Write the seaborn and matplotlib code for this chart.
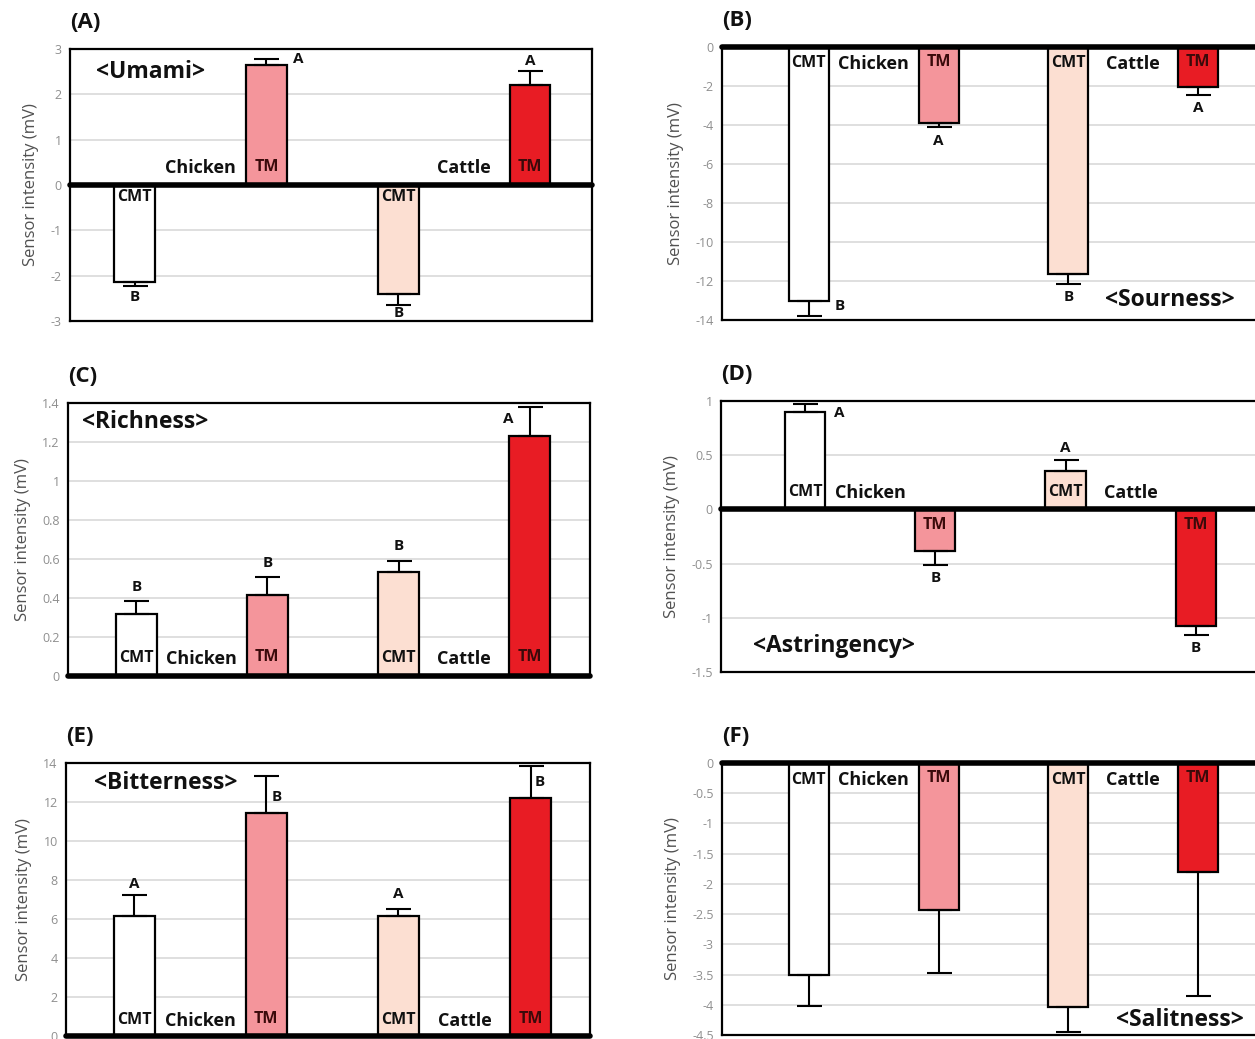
import matplotlib
matplotlib.use('Agg')
import matplotlib.pyplot as plt
import seaborn as sns
import pandas as pd
from matplotlib.ticker import FuncFormatter, MultipleLocator

# ---------------- data ----------------
bars = ["Chicken CMT", "Chicken TM", "Cattle CMT", "Cattle TM"]
bar_tags = ["CMT", "TM", "CMT", "TM"]
groups = ["Chicken", "Cattle"]
bar_colors = ["#FFFFFF", "#F4959B", "#FCDFD2", "#E81C24"]

umami = [-2.13, 2.65, -2.40, 2.20]
umami_err = [0.10, 0.13, 0.24, 0.31]
umami_sig = ["B", "A", "B", "A"]

sourness = [-13.0, -3.92, -11.63, -2.03]
sourness_err = [0.78, 0.20, 0.50, 0.41]
sourness_sig = ["B", "A", "B", "A"]

richness = [0.318, 0.415, 0.532, 1.229]
richness_err = [0.066, 0.095, 0.059, 0.152]
richness_sig = ["B", "B", "B", "A"]

astringency = [0.90, -0.383, 0.352, -1.077]
astringency_err = [0.075, 0.132, 0.108, 0.083]
astringency_sig = ["A", "B", "A", "B"]

bitterness = [6.13, 11.44, 6.13, 12.23]
bitterness_err = [1.09, 1.89, 0.40, 1.64]
bitterness_sig = ["A", "B", "A", "B"]

saltiness = [-3.51, -2.43, -4.03, -1.80]
saltiness_err = [0.51, 1.04, 0.42, 2.06]
saltiness_sig = ["", "", "", ""]

# ---------------- style ----------------
sns.set_style("white")
plt.rcParams['font.family'] = ['Open Sans', 'DejaVu Sans']
plt.rcParams['axes.unicode_minus'] = False

W, H = 1255, 1039
fig = plt.figure(figsize=(W / 100, H / 100), dpi=100)

panels = [
    dict(tag="(A)", name="<Umami>", vals=umami, err=umami_err, sig=umami_sig,
         px=(70, 49, 592, 321), xlim=(-0.49, 3.47), ylim=(-3, 3), step=1,
         name_pos=(-0.29, 2.49), cmt_y=-0.27, tm_y=0.40, grp_y=0.37,
         sig_pos=[(0, -2.47), (1.24, 2.78), (2, -2.83), (3, 2.74)]),
    dict(tag="(B)", name="<Sourness>", vals=sourness, err=sourness_err, sig=sourness_sig,
         px=(722, 47, 1259, 320), xlim=(-0.67, 3.47), ylim=(-14, 0), step=2,
         name_pos=(2.28, -12.97), cmt_y=-0.82, tm_y=-0.77, grp_y=-0.85,
         sig_pos=[(0.24, -13.3), (1, -4.82), (2, -12.8), (3, -3.13)]),
    dict(tag="(C)", name="<Richness>", vals=richness, err=richness_err, sig=richness_sig,
         px=(68, 403, 590, 676), xlim=(-0.52, 3.46), ylim=(0, 1.4), step=0.2,
         name_pos=(-0.41, 1.30), cmt_y=0.092, tm_y=0.095, grp_y=0.088,
         sig_pos=[(0, 0.456), (1, 0.58), (2, 0.667), (2.84, 1.32)]),
    dict(tag="(D)", name="<Astringency>", vals=astringency, err=astringency_err, sig=astringency_sig,
         px=(721, 401, 1257, 672), xlim=(-0.645, 3.47), ylim=(-1.5, 1), step=0.5,
         name_pos=(-0.40, -1.26), cmt_y=0.16, tm_y=-0.14, grp_y=0.15,
         sig_pos=[(0.26, 0.89), (1, -0.63), (2, 0.57), (3, -1.28)]),
    dict(tag="(E)", name="<Bitterness>", vals=bitterness, err=bitterness_err, sig=bitterness_sig,
         px=(66, 763, 590, 1036), xlim=(-0.515, 3.45), ylim=(0, 14), step=2,
         name_pos=(-0.30, 12.97), cmt_y=0.82, tm_y=0.88, grp_y=0.78,
         sig_pos=[(0, 7.8), (1.08, 12.25), (2, 7.28), (3.07, 13.0)]),
    dict(tag="(F)", name="<Salitness>", vals=saltiness, err=saltiness_err, sig=saltiness_sig,
         px=(722, 763, 1259, 1035), xlim=(-0.67, 3.47), ylim=(-4.5, 0), step=0.5,
         name_pos=(2.37, -4.25), cmt_y=-0.28, tm_y=-0.25, grp_y=-0.28,
         sig_pos=[None, None, None, None]),
]

label_font = dict(fontweight='bold', fontsize=13, color='#111111')

for p in panels:
    l, t, r, b = p["px"]
    ax = fig.add_axes([l / W, 1 - b / H, (r - l) / W, (b - t) / H])
    df = pd.DataFrame({"bar": bars, "value": p["vals"]})
    sns.barplot(data=df, x="bar", y="value", hue="bar", order=bars, hue_order=bars,
                palette=bar_colors, saturation=1, width=0.31, edgecolor="black",
                linewidth=1.6, legend=False, ax=ax, zorder=2, errorbar=None)
    # one-sided error bars (away from zero)
    for i, (v, e) in enumerate(zip(p["vals"], p["err"])):
        yerr = [[0], [e]] if v >= 0 else [[e], [0]]
        ax.errorbar([i], [v], yerr=yerr, fmt='none', ecolor='black',
                    elinewidth=1.5, capsize=9, capthick=1.5, zorder=3)
    ax.set_xlim(*p["xlim"])
    ax.set_ylim(*p["ylim"])
    ax.yaxis.set_major_locator(MultipleLocator(p["step"]))
    ax.yaxis.set_major_formatter(FuncFormatter(lambda v, pos: f"{round(v, 2):g}"))
    ax.grid(axis='y', color='#d9d9d9', lw=1.2, zorder=0)
    ax.grid(axis='x', visible=False)
    ax.set_axisbelow(True)
    ax.set_xticks([])
    ax.set_xlabel("")
    ax.set_ylabel("Sensor intensity (mV)", fontsize=12, color='#505050', labelpad=8)
    ax.tick_params(axis='y', length=0, labelsize=9, labelcolor='#8f8f8f', pad=6)
    for s in ax.spines.values():
        s.set_color('black')
        s.set_linewidth(1.6)
    ax.axhline(0, color='black', lw=4, zorder=4, clip_on=False)

    # in-bar and group labels
    for i, tagtxt in enumerate(bar_tags):
        y = p["cmt_y"] if tagtxt == "CMT" else p["tm_y"]
        col = '#111111' if tagtxt == "CMT" else '#3a0a0a'
        ax.text(i, y, tagtxt, ha='center', va='center', fontweight='bold',
                fontsize=11.5, color=col, zorder=5)
    for gi, g in enumerate(groups):
        ax.text(0.5 + 2 * gi, p["grp_y"], g, ha='center', va='center', zorder=5, **label_font)

    # significance letters
    for sp, s in zip(p["sig_pos"], p["sig"]):
        if sp is None or not s:
            continue
        ax.text(sp[0], sp[1], s, ha='center', va='center', fontweight='bold',
                fontsize=11, color='#111111', zorder=5)

    ax.text(p["name_pos"][0], p["name_pos"][1], p["name"], ha='left', va='center',
            fontsize=16.5, fontweight='bold', color='#111111', zorder=5)

    fig.text(l / W, 1 - (t - 27) / H, p["tag"], ha='left', va='center',
             fontsize=16, fontweight='bold', color='#111111')

fig.savefig("out.png", dpi=100)
